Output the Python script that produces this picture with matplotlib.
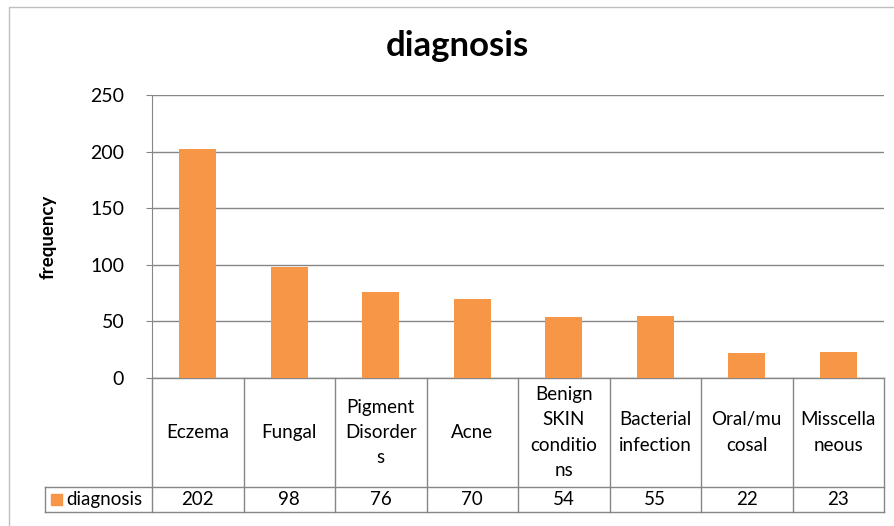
import matplotlib.pyplot as plt
import matplotlib.transforms as mtransforms
from matplotlib.patches import Rectangle
from matplotlib.lines import Line2D

categories = ["Eczema", "Fungal", "Pigment\nDisorder\ns", "Acne",
              "Benign\nSKIN\nconditio\nns", "Bacterial\ninfection",
              "Oral/mu\ncosal", "Misscella\nneous"]
values = [202, 98, 76, 70, 54, 55, 22, 23]
series_name = "diagnosis"
yticks = [0, 50, 100, 150, 200, 250]

bar_color = "#F79646"
grid_color = "#868686"
font = "Lato"
fs = 13.5

W, H = 894, 526
fig = plt.figure(figsize=(W / 100, H / 100), dpi=100)

# plot area in pixels
x0, x1 = 152, 884
y_top, y_bot = 95, 378
ax = fig.add_axes([x0 / W, 1 - y_bot / H, (x1 - x0) / W, (y_bot - y_top) / H])

n = len(categories)
ax.bar(range(n), values, width=0.4, color=bar_color, zorder=3)
ax.set_xlim(-0.5, n - 0.5)
ax.set_ylim(0, 250)
ax.set_yticks(yticks)
ax.set_yticklabels([str(v) for v in yticks], fontsize=14, family=font)
ax.set_xticks([])
ax.yaxis.grid(True, color=grid_color, linewidth=1)
ax.set_axisbelow(True)
for s in ["top", "right", "bottom"]:
    ax.spines[s].set_visible(False)
ax.spines["left"].set_color(grid_color)
ax.tick_params(axis="y", length=4, color=grid_color, pad=16)

fig.text(48 / W, 1 - 237 / H, "frequency", rotation=90, ha="center", va="center",
         fontsize=13.5, fontweight="bold", family=font)
fig.text(457 / W, 1 - 46 / H, "diagnosis", ha="center", va="center",
         fontsize=25, fontweight="bold", family=font)

# data table under the plot
trans = mtransforms.blended_transform_factory(ax.transData, ax.transAxes)
ph = y_bot - y_top
row1 = -(487 - y_bot) / ph
row2 = -(512 - y_bot) / ph
lx = -0.5 - (x0 - 45) / ((x1 - x0) / n)

def hline(xa, xb, y):
    ax.add_line(Line2D([xa, xb], [y, y], transform=trans, color=grid_color,
                       linewidth=1, clip_on=False))

def vline(x, ya, yb):
    ax.add_line(Line2D([x, x], [ya, yb], transform=trans, color=grid_color,
                       linewidth=1, clip_on=False))

hline(-0.5, n - 0.5, 0)
hline(lx, n - 0.5, row1)
hline(lx, n - 0.5, row2)
for i in range(n + 1):
    vline(i - 0.5, 0, row2)
vline(lx, row1, row2)

for i, (c, v) in enumerate(zip(categories, values)):
    ax.text(i, row1 / 2, c, transform=trans, ha="center", va="center",
            fontsize=fs, family=font, linespacing=1.58, clip_on=False)
    ax.text(i, (row1 + row2) / 2, str(v), transform=trans, ha="center",
            va="center", fontsize=fs, family=font, clip_on=False)

# legend key in the table
fig.patches.append(Rectangle((51 / W, 1 - 505 / H), 11 / W, 11 / H,
                             transform=fig.transFigure, color=bar_color))
fig.text(66 / W, 1 - 499.5 / H, series_name, ha="left", va="center",
         fontsize=fs, family=font)

# chart area border
fig.lines.append(Line2D([9 / W, 9 / W, 1], [0, 1 - 7 / H, 1 - 7 / H],
                        transform=fig.transFigure, color="#BFBFBF", linewidth=1))

fig.savefig("out.png", dpi=100)
